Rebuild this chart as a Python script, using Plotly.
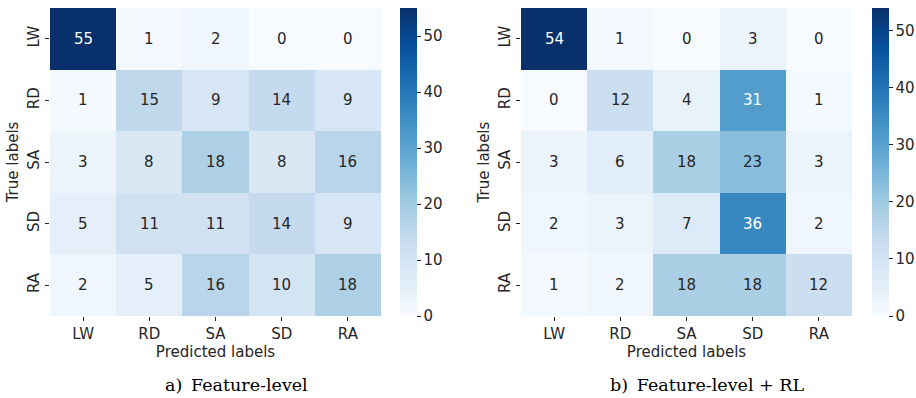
import plotly.graph_objects as go

classes = ["LW", "RD", "SA", "SD", "RA"]

cm_feature = [
    [55, 1, 2, 0, 0],
    [1, 15, 9, 14, 9],
    [3, 8, 18, 8, 16],
    [5, 11, 11, 14, 9],
    [2, 5, 16, 10, 18],
]
cm_feature_rl = [
    [54, 1, 0, 3, 0],
    [0, 12, 4, 31, 1],
    [3, 6, 18, 23, 3],
    [2, 3, 7, 36, 2],
    [1, 2, 18, 18, 12],
]
captions = ["a)\u2002Feature-level", "b)\u2002Feature-level + RL"]
cbar_ticks = [0, 10, 20, 30, 40, 50]

# ColorBrewer "Blues", 9 classes, evenly spaced
BLUES = [
    (247, 251, 255), (222, 235, 247), (198, 219, 239), (158, 202, 225),
    (107, 174, 214), (66, 146, 198), (33, 113, 181), (8, 81, 156), (8, 48, 107),
]
colorscale = [[i / 8, "rgb(%d,%d,%d)" % c] for i, c in enumerate(BLUES)]

TXT = "#262626"
W, H = 916, 398


def blues_at(t):
    t = min(max(t, 0.0), 1.0) * 8
    i = min(int(t), 7)
    f = t - i
    a, b = BLUES[i], BLUES[i + 1]
    return tuple(a[k] + (b[k] - a[k]) * f for k in range(3))


def luminance(rgb):
    out = []
    for c in rgb:
        c = c / 255
        out.append(c / 12.92 if c <= 0.03928 else ((c + 0.055) / 1.055) ** 2.4)
    return 0.2126 * out[0] + 0.7152 * out[1] + 0.0722 * out[2]


# pixel geometry of each panel: heatmap x-range, colorbar left edge,
# caption centre (under the whole panel incl. colorbar)
panels = [
    dict(x0=50, x1=381, cb=400, cap=236),
    dict(x0=521, x1=852, cb=872, cap=707),
]
top_px, bot_px = 8, 316
ydom = [(H - bot_px) / H, (H - top_px) / H]

fig = go.Figure()
for k, (cm, p) in enumerate(zip([cm_feature, cm_feature_rl], panels)):
    n = "" if k == 0 else str(k + 1)
    vmax = max(max(r) for r in cm)
    fig.add_trace(go.Heatmap(
        z=cm, x=classes, y=classes,
        xaxis="x" + n, yaxis="y" + n,
        colorscale=colorscale, zmin=0, zmax=vmax,
        xgap=0, ygap=0, hoverongaps=False,
        colorbar=dict(
            x=p["cb"] / W, xanchor="left", xref="paper",
            y=ydom[1], yanchor="top", yref="paper",
            lenmode="pixels", len=bot_px - top_px,
            thicknessmode="pixels", thickness=17,
            xpad=0, ypad=0, outlinewidth=0,
            tickvals=cbar_ticks, ticks="outside", ticklen=4,
            tickwidth=1, tickcolor=TXT,
            tickfont=dict(family="DejaVu Sans", size=15, color=TXT),
        ),
    ))
    for i, row in enumerate(cm):
        for j, v in enumerate(row):
            col = TXT if luminance(blues_at(v / vmax)) > 0.408 else "white"
            fig.add_annotation(
                x=classes[j], y=classes[i], xref="x" + n, yref="y" + n,
                text=str(v), showarrow=False,
                font=dict(family="DejaVu Sans", size=15, color=col),
            )
    fig.add_annotation(
        x=p["cap"] / W, y=(H - 385) / H,
        xref="paper", yref="paper", xanchor="center", yanchor="middle",
        text=captions[k], showarrow=False,
        font=dict(family="DejaVu Serif", size=17.5, color="black"),
    )

axis_common = dict(
    showgrid=False, zeroline=False, showline=False,
    ticks="outside", ticklen=4, tickwidth=1, tickcolor=TXT,
    tickfont=dict(family="DejaVu Sans", size=15, color=TXT),
)
layout = dict(
    width=W, height=H,
    margin=dict(l=0, r=0, t=0, b=0),
    paper_bgcolor="white", plot_bgcolor="white",
    showlegend=False,
)
for k, p in enumerate(panels):
    n = "" if k == 0 else str(k + 1)
    layout["xaxis" + n] = dict(
        axis_common, domain=[p["x0"] / W, p["x1"] / W], anchor="y" + n,
        title=dict(text="Predicted labels", standoff=4,
                   font=dict(family="DejaVu Sans", size=15, color=TXT)),
    )
    layout["yaxis" + n] = dict(
        axis_common, domain=ydom, anchor="x" + n, autorange="reversed",
        tickangle=-90,
        title=dict(text="True labels", standoff=2,
                   font=dict(family="DejaVu Sans", size=15, color=TXT)),
    )
fig.update_layout(**layout)

fig.write_html("out.html")
